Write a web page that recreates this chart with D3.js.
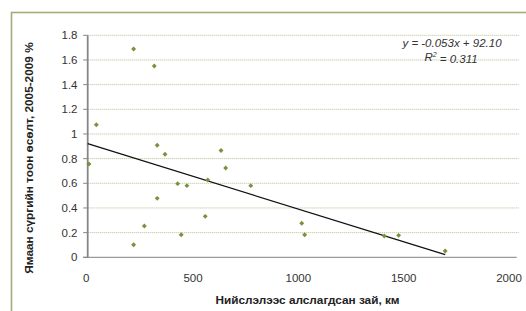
<!DOCTYPE html>
<html>
<head>
<meta charset="utf-8">
<script src="https://cdn.jsdelivr.net/npm/d3@7"></script>
<style>
  html, body { margin: 0; padding: 0; background: #fff; }
  svg { display: block; font-family: "Liberation Sans", Arial, sans-serif; }
</style>
</head>
<body>
<svg id="chart" width="526" height="311"></svg>
<script>
// Distance from the capital (km)
const distanceKm = [6, 41, 218, 218, 269, 316, 330, 330, 367, 427, 444, 471, 558, 570, 633, 655, 774, 1016, 1030, 1408, 1476, 1697];
// Goat herd growth, 2005-2009 (%)
const growth = [0.757, 1.075, 1.689, 0.102, 0.254, 1.551, 0.908, 0.478, 0.835, 0.597, 0.183, 0.581, 0.332, 0.627, 0.866, 0.724, 0.581, 0.276, 0.183, 0.173, 0.178, 0.051];

const xTicks = [0, 500, 1000, 1500, 2000];
const yTicks = [0, 0.2, 0.4, 0.6, 0.8, 1, 1.2, 1.4, 1.6, 1.8];
const trendSlope = -0.053;     // per km, in 0.01 %
const trendIntercept = 92.10;  // in 0.01 %
const r2 = 0.311;

const xTitle = "Нийслэлээс алслагдсан зай, км";
const yTitle = "Ямаан сүргийн тоон өсөлт, 2005-2009  %";

(function () {
const svg = d3.select("#chart");
const mLeft = 87.7, mTop = 35.3, mBottom = 257.3;
const xRange = 421.3;      // pixel span of 0..2000
const plotRight = mLeft + 430;

const x = d3.scaleLinear().domain([0, 2000]).range([mLeft, mLeft + xRange]);
const y = d3.scaleLinear().domain([0, 1.8]).range([mBottom, mTop]);

// outer chart border
svg.append("rect")
  .attr("x", 11.5).attr("y", 12.5).attr("width", 530).attr("height", 320)
  .attr("fill", "none").attr("stroke", "#a3ab78").attr("stroke-width", 1.6);

// gridlines
svg.append("g").selectAll("line").data(yTicks.filter(d => d > 0)).join("line")
  .attr("x1", mLeft).attr("x2", plotRight + 2)
  .attr("y1", d => y(d)).attr("y2", d => y(d))
  .attr("stroke", "#b6bd8c").attr("stroke-width", 1).attr("stroke-dasharray", "1,1");

// x axis line
svg.append("line")
  .attr("x1", mLeft - 4.5).attr("x2", plotRight - 1)
  .attr("y1", y(0)).attr("y2", y(0))
  .attr("stroke", "#9a9a9a").attr("stroke-width", 1.2);

// y axis
svg.append("line")
  .attr("x1", mLeft).attr("x2", mLeft)
  .attr("y1", y(1.8)).attr("y2", y(0))
  .attr("stroke", "#868686").attr("stroke-width", 1.8);
svg.append("g").selectAll("line").data(yTicks).join("line")
  .attr("x1", mLeft - 4.5).attr("x2", mLeft)
  .attr("y1", d => y(d)).attr("y2", d => y(d))
  .attr("stroke", "#868686").attr("stroke-width", 1);

// y tick labels
svg.append("g").selectAll("text").data(yTicks).join("text")
  .attr("x", 77.5).attr("y", d => y(d)).attr("dy", "0.35em")
  .attr("text-anchor", "end").attr("font-size", 11.5).attr("fill", "#333")
  .text(d => d3.format("")(d));

// x tick labels
svg.append("g").selectAll("text").data(xTicks).join("text")
  .attr("x", d => x(d) - (d === 0 ? 1.5 : 0)).attr("y", 277.5).attr("dy", "0.35em")
  .attr("text-anchor", "middle").attr("font-size", 11.5).attr("fill", "#333")
  .text(d => d);

// trend line (from 0 to max of data x)
const xMax = d3.max(distanceKm);
const trend = v => (trendSlope * v + trendIntercept) / 100;
svg.append("line")
  .attr("x1", x(0)).attr("y1", y(trend(0)))
  .attr("x2", x(xMax)).attr("y2", y(trend(xMax)))
  .attr("stroke", "#111").attr("stroke-width", 1.3);

// points (small squares rotated 45° = Excel diamond)
const pts = distanceKm.map((d, i) => [d, growth[i]]);
const marker = d3.symbol().type(d3.symbolSquare).size(12);
svg.append("g").selectAll("path").data(pts).join("path")
  .attr("transform", d => `translate(${x(d[0])},${y(d[1])}) rotate(45)`)
  .attr("d", marker)
  .attr("fill", "#77933c");

// equation
const eq = svg.append("g").attr("font-size", 11.5).attr("font-style", "italic").attr("fill", "#333").attr("text-anchor", "middle");
eq.append("text").attr("x", 452).attr("y", 43).attr("dy", "0.35em")
  .text(`y = ${trendSlope.toFixed(3)}x + ${trendIntercept.toFixed(2)}`);
const r = eq.append("text").attr("x", 451).attr("y", 56.5).attr("dy", "0.35em");
r.append("tspan").text("R");
r.append("tspan").attr("font-size", 7).attr("dy", "-0.5em").text("2");
r.append("tspan").attr("dy", "0.5em").text(` = ${r2.toFixed(3)}`);

// axis titles
svg.append("text")
  .attr("x", 307.5).attr("y", 300).attr("dy", "0.35em")
  .attr("text-anchor", "middle").attr("font-size", 11.8).attr("font-weight", "bold").attr("fill", "#222")
  .text(xTitle);
svg.append("text")
  .attr("transform", "translate(29,158) rotate(-90)")
  .attr("dy", "0.35em")
  .attr("text-anchor", "middle").attr("font-size", 11.8).attr("font-weight", "bold").attr("fill", "#222")
  .text(yTitle);
})();
</script>
</body>
</html>
